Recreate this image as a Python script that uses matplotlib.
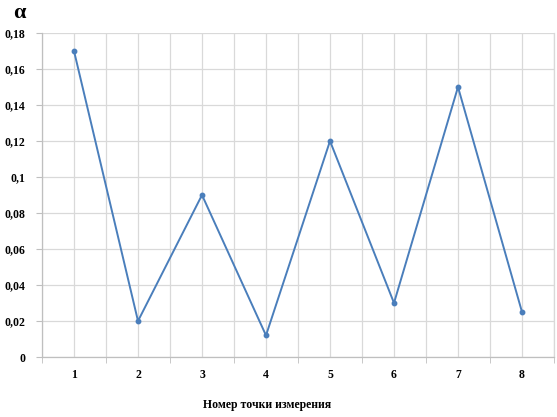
import matplotlib
matplotlib.use("Agg")
import matplotlib.pyplot as plt
from matplotlib.ticker import FixedLocator

points = [1, 2, 3, 4, 5, 6, 7, 8]
alpha = [0.17, 0.02, 0.09, 0.012, 0.12, 0.03, 0.15, 0.025]
yticks = [0, 0.02, 0.04, 0.06, 0.08, 0.1, 0.12, 0.14, 0.16, 0.18]
ytick_labels = ["0", "0,02", "0,04", "0,06", "0,08", "0,1", "0,12", "0,14", "0,16", "0,18"]

plt.rcParams['font.family'] = ['Liberation Serif', 'DejaVu Serif']

fig = plt.figure(figsize=(5.57, 4.17), dpi=100)
ax = fig.add_axes([42/557, 1-357/417, (554-42)/557, (357-33)/417])

ax.plot(points, alpha, color='#4a7ebb', lw=1.4, marker='o', ms=3.2, zorder=3)

ax.set_xlim(0.5, 8.5)
ax.set_ylim(0, 0.18)
ax.set_yticks(yticks)
ax.set_yticklabels(ytick_labels, fontsize=8.5, fontweight='bold')
ax.set_xticks(points)
ax.set_xticklabels([str(p) for p in points], fontsize=8.5, fontweight='bold')
ax.xaxis.set_minor_locator(FixedLocator([p + 0.5 for p in [0] + points]))

ax.grid(True, which='major', axis='both', color='#d9d9d9', lw=0.9, zorder=0)
ax.grid(True, which='minor', axis='x', color='#d9d9d9', lw=0.9, zorder=0)
ax.tick_params(axis='x', which='major', length=0, pad=9)
ax.tick_params(axis='x', which='minor', length=4, color='#bfbfbf', direction='out')
ax.tick_params(axis='y', length=4, color='#bfbfbf', pad=8)
for s in ax.spines.values():
    s.set_color('#bfbfbf')
    s.set_linewidth(0.9)
ax.spines['top'].set_visible(False)
ax.spines['right'].set_color('#d9d9d9')

fig.text(19/557, 1-13/417, "α", fontsize=16, fontweight='bold', ha='center', va='center')
fig.text(267/557, 1-405/417, "Номер точки измерения", fontsize=8.5, fontweight='bold', ha='center', va='center')

fig.savefig("out.png", dpi=100)
